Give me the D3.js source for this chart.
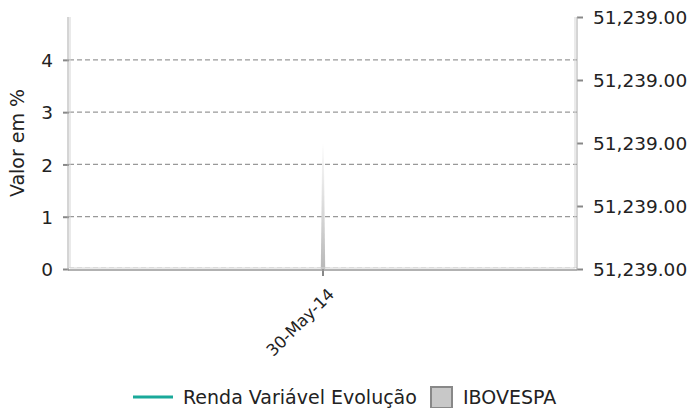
<!DOCTYPE html>
<html>
<head>
<meta charset="utf-8">
<script src="https://cdn.jsdelivr.net/npm/d3@7"></script>
<style>
  html, body { margin: 0; padding: 0; background: #fff; }
  svg { display: block; }
  svg text { font-family: 'DejaVu Sans', sans-serif; }
  .axis text { fill: #222; }
</style>
</head>
<body>
<div id="chart"></div>
<script>
const categories = ['30-May-14'];
const ibovespa = [2.45];
const leftTicks = [0, 1, 2, 3, 4];
const rightTickLabels = ['51,239.00', '51,239.00', '51,239.00', '51,239.00', '51,239.00'];
const seriesNames = ['Renda Variável Evolução', 'IBOVESPA'];

const width = 689;
const height = 408;
const margin = { top: 17, right: 112, bottom: 139, left: 69 };
const plotW = width - margin.left - margin.right;
const plotH = height - margin.top - margin.bottom;

const svg = d3.select('#chart').append('svg').attr('width', width).attr('height', height);

const defs = svg.append('defs');
const grad = defs.append('linearGradient').attr('id', 'spike').attr('x1', 0).attr('y1', 0).attr('x2', 0).attr('y2', 1);
grad.append('stop').attr('offset', '0%').attr('stop-color', '#ffffff');
grad.append('stop').attr('offset', '100%').attr('stop-color', '#b8b8b8');

const g = svg.append('g').attr('transform', `translate(${margin.left},${margin.top})`);

/* Scales
=========================================================================*/
const x = d3.scaleBand().domain(categories).range([0, plotW]);
const y = d3.scaleLinear().domain([0, 4.82]).range([plotH, 0]);
const yRight = d3.scaleLinear().domain([0, rightTickLabels.length - 1]).range([plotH, 0]);

/* Grid
=========================================================================*/
g.append('g')
  .selectAll('line')
  .data(leftTicks)
  .join('line')
  .attr('x1', 0)
  .attr('x2', plotW)
  .attr('y1', (d) => y(d) - (d === 0 ? 1.5 : 0))
  .attr('y2', (d) => y(d) - (d === 0 ? 1.5 : 0))
  .attr('stroke', (d) => (d === 0 ? '#e2e2e2' : '#999'))
  .attr('stroke-width', 1.2)
  .attr('stroke-dasharray', '5,3');

/* IBOVESPA spike
=========================================================================*/
const cx = (c) => x(c) + x.bandwidth() / 2;
g.append('g')
  .selectAll('path')
  .data(categories.map((c, i) => [c, ibovespa[i]]))
  .join('path')
  .attr('d', ([c, v]) => {
    const x0 = cx(c);
    return `M${x0 - 2.2},${y(0)}L${x0 - 0.8},${y(v) + 8}L${x0},${y(v)}L${x0 + 0.8},${y(v) + 8}L${x0 + 2.2},${y(0)}Z`;
  })
  .attr('fill', 'url(#spike)');

/* Axes
=========================================================================*/
const axisStyle = (sel) => {
  sel.attr('font-family', null).attr('font-size', null);
  sel.select('.domain').remove();
  sel.selectAll('.tick line').attr('stroke', '#888').attr('stroke-width', 2);
};

const leftAxis = g.append('g')
  .attr('class', 'axis')
  .call(d3.axisLeft(y).tickValues(leftTicks).tickSize(6).tickPadding(10).tickFormat(d3.format('d')))
  .call(axisStyle);
leftAxis.selectAll('text').attr('font-size', 18.5).attr('dy', '0.36em');

const rightAxis = g.append('g')
  .attr('class', 'axis')
  .attr('transform', `translate(${plotW},0)`)
  .call(d3.axisRight(yRight).tickValues(d3.range(rightTickLabels.length)).tickSize(6).tickPadding(10).tickFormat((i) => rightTickLabels[i]))
  .call(axisStyle);
rightAxis.selectAll('text').attr('font-size', 18.5).attr('dy', '0.36em');

const bottomAxis = g.append('g')
  .attr('class', 'axis')
  .attr('transform', `translate(0,${plotH})`)
  .call(d3.axisBottom(x).tickSize(7).tickPadding(4))
  .call(axisStyle);
bottomAxis.selectAll('text')
  .attr('font-size', 16.5)
  .attr('text-anchor', 'end')
  .attr('dy', '0.3em')
  .attr('transform', 'translate(1,15) rotate(-45)');

// double axis lines
const frame = g.append('g').attr('fill', 'none');
frame.append('path').attr('d', `M-1,0V${plotH + 1}`).attr('stroke', '#aaa');
frame.append('path').attr('d', `M1,0V${plotH - 1}`).attr('stroke', '#d5d5d5');
frame.append('path').attr('d', `M${plotW},0V${plotH + 1}`).attr('stroke', '#aaa');
frame.append('path').attr('d', `M${plotW - 2},0V${plotH - 1}`).attr('stroke', '#d5d5d5');
frame.append('path').attr('d', `M-1,${plotH + 1}H${plotW}`).attr('stroke', '#999').attr('stroke-width', 1.5);
frame.append('path').attr('d', `M1,${plotH - 1}H${plotW - 2}`).attr('stroke', '#d5d5d5');

svg.append('text')
  .attr('transform', `translate(24,${margin.top + plotH / 2}) rotate(-90)`)
  .attr('text-anchor', 'middle')
  .attr('font-size', 19)
  .attr('fill', '#222')
  .text('Valor em %');

/* Legend
=========================================================================*/
const legend = svg.append('g').attr('transform', 'translate(133,397)');
legend.append('line').attr('x1', 0).attr('x2', 40).attr('stroke', '#1aa99a').attr('stroke-width', 3);
legend.append('text').attr('x', 50).attr('y', 7).attr('font-size', 19).attr('fill', '#222').text(seriesNames[0]);
legend.append('rect').attr('x', 298).attr('y', -10).attr('width', 21).attr('height', 21)
  .attr('fill', '#c8c8c8').attr('stroke', '#888').attr('stroke-width', 2);
legend.append('text').attr('x', 330).attr('y', 7).attr('font-size', 19).attr('fill', '#222').text(seriesNames[1]);
</script>
</body>
</html>
